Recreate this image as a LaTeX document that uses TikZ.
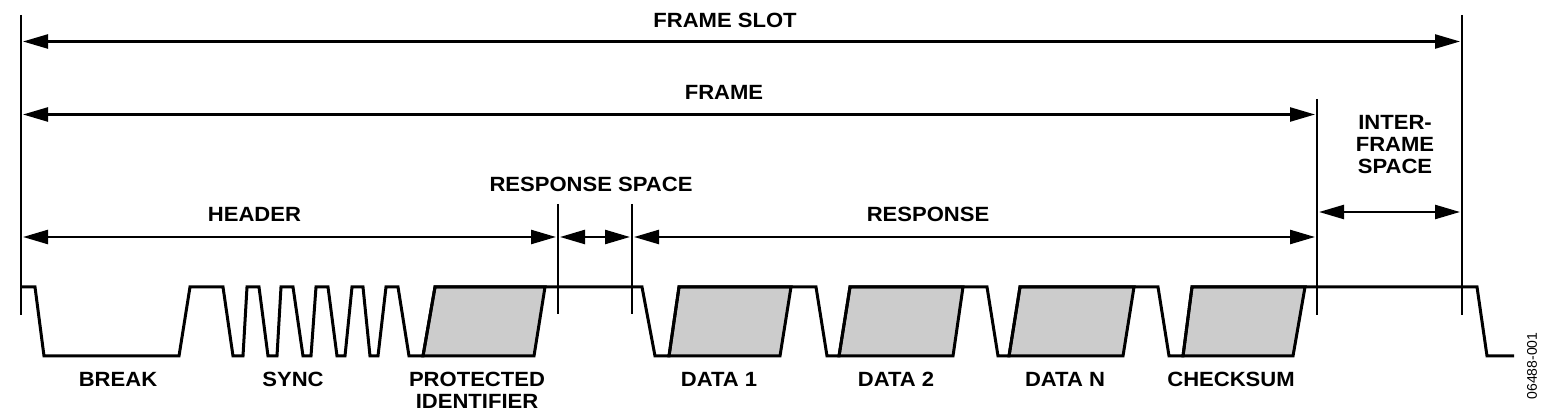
\documentclass[tikz,border=0pt]{standalone}
\usepackage{fontspec}
\setmainfont{Liberation Sans}[FakeStretch=1.07]
\newfontfamily\codefont{Liberation Sans}
\usetikzlibrary{arrows.meta}
\begin{document}
\begin{tikzpicture}[x=0.5pt,y=-0.5pt,
  lbl/.style={font=\fontsize{10.3}{11}\selectfont\bfseries, inner sep=0pt, align=center},
  dim/.style={line width=1.2pt, {Triangle[length=12.5pt,width=7pt]}-{Triangle[length=12.5pt,width=7pt]}, shorten <=1pt, shorten >=1pt},
  tick/.style={line width=0.7pt},
  wave/.style={line width=1.5pt, line join=miter},
  byte/.style={line width=1.5pt, fill=black!20, line join=miter}]
\useasboundingbox (0,0) rectangle (1551,416);

% boundary coordinates
\coordinate (sT) at (21,15);    \coordinate (sB) at (21,315);
\coordinate (eT) at (1462,15);  \coordinate (eB) at (1462,315);
\coordinate (fT) at (1317,99);  \coordinate (fB) at (1317,315);
\coordinate (hT) at (558,204);  \coordinate (hB) at (558,314);
\coordinate (rT) at (632,204);  \coordinate (rB) at (632,314);

% vertical markers
\draw[tick] (sT) -- (sB);
\draw[tick] (eT) -- (eB);
\draw[tick] (fT) -- (fB);
\draw[tick] (hT) -- (hB);
\draw[tick] (rT) -- (rB);

% dimension arrows
\coordinate (slotL) at (21,41.5);  \coordinate (slotR) at (1462,41.5);
\coordinate (frL) at (21,114.5);   \coordinate (frR) at (1317,114.5);
\coordinate (ifL) at (1317,212);   \coordinate (ifR) at (1462,212);
\coordinate (hdL) at (21,237);     \coordinate (hdR) at (558,237);
\coordinate (rsL) at (558,237);    \coordinate (rsR) at (632,237);
\coordinate (reL) at (632,237);    \coordinate (reR) at (1317,237);
\draw[dim] (slotL) -- (slotR);
\draw[dim] (frL) -- (frR);
\draw[dim] (ifL) -- (ifR);
\draw[dim] (hdL) -- (hdR);
\draw[dim] (rsL) -- (rsR);
\draw[dim] (reL) -- (reR);

% labels above
\node[lbl] (tslot) at (725,20) {FRAME SLOT};
\node[lbl] (tframe) at (724,92) {FRAME};
\node[lbl] (tif) at (1395,145) {INTER-\\FRAME\\SPACE};
\node[lbl] (thead) at (254.5,214) {HEADER};
\node[lbl] (trs) at (591,184) {RESPONSE SPACE};
\node[lbl] (tresp) at (928,214) {RESPONSE};

% byte fields
\draw[byte] (423,356) -- (435,287) -- (545,287) -- (534,356) -- cycle;
\draw[byte] (669,356) -- (679,287) -- (791,287) -- (780,356) -- cycle;
\draw[byte] (839,356) -- (850,287) -- (963,287) -- (953,356) -- cycle;
\draw[byte] (1009,356) -- (1020,287) -- (1134,287) -- (1123,356) -- cycle;
\draw[byte] (1183,356) -- (1192,287) -- (1305,287) -- (1293,356) -- cycle;

% waveform
\draw[wave] (21,287) -- (35,287) -- (44,356) -- (179,356) -- (190,287) -- (223,287)
  -- (233,356) -- (243,356) -- (247,287) -- (259,287)
  -- (268,356) -- (277,356) -- (281,287) -- (293,287)
  -- (303,356) -- (311,356) -- (316,287) -- (328,287)
  -- (337,356) -- (345,356) -- (352,287) -- (363,287)
  -- (370,356) -- (378,356) -- (386,287) -- (398,287)
  -- (409,356) -- (423,356) -- (435,287) -- (642,287)
  -- (655,356) -- (669,356) -- (679,287) -- (816,287)
  -- (827,356) -- (839,356) -- (850,287) -- (987,287)
  -- (998,356) -- (1009,356) -- (1020,287) -- (1158,287)
  -- (1169,356) -- (1183,356) -- (1192,287) -- (1477,287)
  -- (1487,356) -- (1514,356);

% labels below
\node[lbl] (tbreak) at (118,379) {BREAK};
\node[lbl] (tsync) at (293,379) {SYNC};
\node[lbl] (tpid) at (477,390) {PROTECTED\\IDENTIFIER};
\node[lbl] (td1) at (719,379) {DATA 1};
\node[lbl] (td2) at (896,379) {DATA 2};
\node[lbl] (tdn) at (1065,379) {DATA N};
\node[lbl] (tcs) at (1231,379) {CHECKSUM};
\node[inner sep=0pt, rotate=90, font=\codefont\fontsize{7}{8}\selectfont] (code) at (1532,366) {06488-001};
\end{tikzpicture}
\end{document}
